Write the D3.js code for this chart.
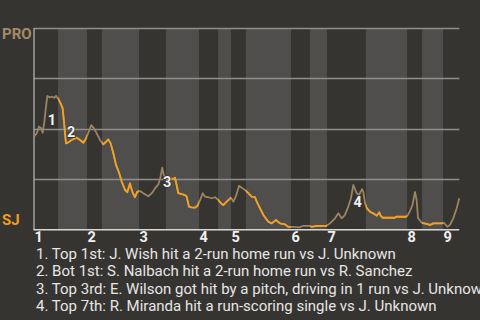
<!DOCTYPE html>
<html>
<head>
<meta charset="utf-8">
<script src="https://cdn.jsdelivr.net/npm/d3@7"></script>
<style>
  html, body { margin: 0; padding: 0; background: #363430; }
  svg { display: block; font-family: Roboto, "Noto Sans", sans-serif; }
</style>
</head>
<body>
<div id="chart"></div>
<script>
'use strict';

// play position (game progress) and PRO win probability (%)
var plays = [0, 1.8, 3.3, 4.7, 5.8, 6.9, 8, 8.9, 10.7, 12, 13.5, 14.7, 16.2, 17.8, 19.1, 20.2, 21.3, 22.9, 25.1, 28.5,
    30.7, 32.9, 34.7, 36.5, 38.2, 40, 41.8, 44, 46.2, 48, 49.5, 51.1, 52.9, 54.7, 56.5, 58.5, 60.7, 62.2, 64, 65.5,
    67.3, 68.9, 70.7, 72.9, 76.2, 78.5, 80.7, 82.9, 84.2, 85.5, 86.5, 87.8, 91.3, 93.5, 94, 95.1, 96.2, 98.5, 100.7, 101.8,
    103.3, 105.1, 107.3, 109.1, 110.7, 112.5, 114, 116.2, 118.5, 120.7, 122.9, 124.7, 126.2, 128.5, 131.3, 132.9, 134.5, 136.7, 138.5, 140.7,
    142.9, 145.1, 147.3, 148.5, 150.7, 152.9, 156.2, 158.5, 161.3, 164, 167.3, 169.5, 172.9, 176.9, 179.5, 183.5, 185.1, 188.5, 195.1, 197.3,
    200.7, 202.9, 205.1, 207.3, 209.5, 211.3, 212.9, 214.2, 215.1, 216.7, 218.7, 219.5, 220.7, 221.8, 224, 226.2, 228.5, 230.2, 231.1, 232.5,
    235.1, 240.7, 241.3, 248, 248.9, 250.7, 252.3, 254, 255.1, 256, 258.5, 261.8, 264, 266.2, 271.8, 273.3, 275.5, 277.3, 279.5, 281.8, 283.5];

var proWinPct = [45.9, 47.6, 50.9, 50.2, 47.9, 53.4, 60.8, 66.2, 65.5, 65.8, 65.3, 66.2, 64.7, 62.5, 60.0, 51.7, 42.6, 43.1, 44.3, 45.4,
    44.3, 42.9, 45.1, 48.4, 51.7, 50.1, 47.6, 44.3, 42.1, 43.4, 44.6, 42.6, 37.7, 31.8, 28.5, 23.5, 19.4, 18.3, 22.7, 18.6,
    15.8, 18.6, 18.9, 17.8, 16.3, 17.8, 20.2, 22.2, 25.5, 30.5, 26.9, 24.9, 24.9, 25.2, 25.5, 21.9, 17.8, 17.3, 16.9, 16.1,
    11.1, 10.8, 10.6, 11.6, 14.4, 17.8, 16.1, 15.8, 15.3, 15.8, 14.4, 12.8, 11.9, 13.6, 15.6, 13.6, 16.1, 21.5, 20.5, 19.4,
    17.8, 16.1, 15.9, 13.6, 10.3, 7.0, 3.6, 2.8, 4.5, 2.8, 2.3, 1.1, 1.1, 0.8, 1.6, 1.6, 1.1, 1.5, 1.6, 2.8,
    5.3, 7.8, 5.3, 7.0, 11.1, 15.3, 21.9, 19.4, 17.8, 16.9, 19.8, 18.6, 12.8, 10.4, 8.6, 7.8, 6.6, 8.3, 6.6, 5.6,
    5.6, 5.6, 6.1, 6.1, 6.5, 9.0, 11.9, 18.4, 14.4, 5.5, 3.1, 2.5, 2.0, 2.8, 2.8, 3.1, 1.1, 2.0, 5.3, 10.3, 15.3];

// start of each half inning (top 1st, bot 1st, top 2nd ...) and end of game
var halfStarts = [0, 16, 35.3, 45.3, 70, 88, 110, 122.7, 131.3, 141.3, 171.3, 184, 195.3, 221.3, 248.7, 258.7, 272.7];
var gameEnd = 283.5;

var gridTicks = [25, 50, 75, 100];

// key events: [label, index before, index after]
var events = [[1, 4, 7], [2, 14, 16], [3, 47, 49], [4, 104, 106]];
var eventText = [
    '1. Top 1st: J. Wish hit a 2-run home run vs J. Unknown',
    '2. Bot 1st: S. Nalbach hit a 2-run home run vs R. Sanchez',
    '3. Top 3rd: E. Wilson got hit by a pitch, driving in 1 run vs J. Unknown',
    '4. Top 7th: R. Miranda hit a run-scoring single vs J. Unknown'
];

var width = 480, height = 320;
var bg = '#363430', bandLight = '#4f4e4c';
var proColor = '#9c8462', sjColor = '#f5a11f';

var x = d3.scaleLinear().domain([0, gameEnd]).range([34, 459.25]);
var y = d3.scaleLinear().domain([0, 100]).range([229, 28]);

var svg = d3.select('#chart').append('svg')
    .attr('width', width)
    .attr('height', height);

svg.append('rect').attr('width', width).attr('height', height).attr('fill', bg);

var halves = halfStarts.map(function (s, i) {
    return {start: s, end: i < halfStarts.length - 1 ? halfStarts[i + 1] : gameEnd, bottom: i % 2 === 1, inning: Math.floor(i / 2) + 1};
});

// bottom half inning bands
svg.append('g').selectAll('rect')
    .data(halves.filter(function (d) { return d.bottom; }))
    .enter().append('rect')
    .attr('x', function (d) { return x(d.start); })
    .attr('width', function (d) { return x(d.end) - x(d.start); })
    .attr('y', y(100))
    .attr('height', y(0) - y(100))
    .attr('fill', bandLight);

// grid lines
svg.append('g').selectAll('line')
    .data(gridTicks)
    .enter().append('line')
    .attr('x1', x(0)).attr('x2', x(gameEnd))
    .attr('y1', function (d) { return Math.round(y(d)) + 0.5; })
    .attr('y2', function (d) { return Math.round(y(d)) + 0.5; })
    .attr('stroke', '#8e8e8c')
    .attr('stroke-width', 1.3);

// axes lines
svg.append('line')
    .attr('x1', x(0)).attr('x2', x(0))
    .attr('y1', y(100)).attr('y2', y(0) + 1)
    .attr('stroke', '#b0b0ae').attr('stroke-width', 1.3);
svg.append('line')
    .attr('x1', x(0) - 0.5).attr('x2', x(gameEnd))
    .attr('y1', y(0) + 0.8).attr('y2', y(0) + 0.8)
    .attr('stroke', '#d8d8d6').attr('stroke-width', 1.5);

// clip for bottom halves (SJ batting)
var clip = svg.append('defs').append('clipPath').attr('id', 'sjclip');
clip.selectAll('rect')
    .data(halves.filter(function (d) { return d.bottom; }))
    .enter().append('rect')
    .attr('x', function (d) { return x(d.start); })
    .attr('width', function (d) { return x(d.end) - x(d.start); })
    .attr('y', 0).attr('height', height);

var points = plays.map(function (p, i) { return [p, proWinPct[i]]; });
var line = d3.line()
    .x(function (d) { return x(d[0]); })
    .y(function (d) { return y(d[1]); });

svg.append('path')
    .datum(points)
    .attr('d', line)
    .attr('fill', 'none')
    .attr('stroke', proColor)
    .attr('stroke-width', 1.8)
    .attr('stroke-linejoin', 'round');

svg.append('path')
    .datum(points)
    .attr('d', line)
    .attr('clip-path', 'url(#sjclip)')
    .attr('fill', 'none')
    .attr('stroke', sjColor)
    .attr('stroke-width', 1.8)
    .attr('stroke-linejoin', 'round');

// event markers
svg.append('g').selectAll('text')
    .data(events)
    .enter().append('text')
    .attr('x', function (d) { return (x(plays[d[1]]) + x(plays[d[2]])) / 2 + 6.8; })
    .attr('y', function (d) { return (y(proWinPct[d[1]]) + y(proWinPct[d[2]])) / 2 + 11; })
    .attr('text-anchor', 'middle')
    .attr('font-size', 14.5)
    .attr('font-weight', 'bold')
    .attr('fill', '#f0f0f0')
    .attr('stroke', bg)
    .attr('stroke-width', 1.5)
    .attr('paint-order', 'stroke')
    .text(function (d) { return d[0]; });

// team labels
svg.append('text')
    .attr('x', 2).attr('y', 39)
    .attr('font-size', 15).attr('font-weight', 'bold')
    .attr('fill', '#a38b67')
    .text('PRO');
svg.append('text')
    .attr('x', 2).attr('y', 225)
    .attr('font-size', 15).attr('font-weight', 'bold')
    .attr('fill', '#f29b1c')
    .text('SJ');

// inning numbers
svg.append('g').selectAll('text')
    .data(halves.filter(function (d) { return !d.bottom; }))
    .enter().append('text')
    .attr('x', function (d) { return x(d.start) + 0.5; })
    .attr('y', 242)
    .attr('font-size', 14.5)
    .attr('font-weight', 'bold')
    .attr('fill', '#f0f0f0')
    .text(function (d) { return d.inning; });

// event descriptions
svg.append('g').selectAll('text')
    .data(eventText)
    .enter().append('text')
    .attr('x', 36)
    .attr('y', function (d, i) { return 258.5 + i * 17.6; })
    .attr('font-size', 15)
    .attr('fill', '#e6e6e6')
    .text(function (d) { return d; });
</script>
</body>
</html>
